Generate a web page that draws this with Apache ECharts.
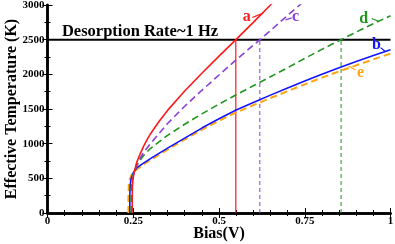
<!DOCTYPE html>
<html><head><meta charset="utf-8">
<script src="https://cdn.jsdelivr.net/npm/echarts@6/dist/echarts.min.js"></script>
<style>html,body{margin:0;padding:0;background:#fff}#c{width:395px;height:244px}</style>
</head><body><div id="c"></div>
<script>
// ---- data ----
const xTicks = [0, 0.25, 0.5, 0.75, 1];
const yTicks = [0, 500, 1000, 1500, 2000, 2500, 3000];
const biasA = [0.247,0.247,0.2475,0.249,0.252,0.256,0.26,0.27,0.28,0.29,0.30,0.325,0.35,0.40,0.45,0.50,0.55,0.60,0.65,0.66];
const tempA = [0,200,380,480,570,650,730,850,960,1055,1140,1320,1480,1760,2015,2263,2505,2750,3000,3050];
const biasB = [0.240,0.240,0.241,0.244,0.25,0.26,0.28,0.30,0.35,0.40,0.45,0.50,0.55,0.60,0.65,0.70,0.75,0.80,0.85,0.90,0.95,1.0];
const tempB = [0,250,400,500,580,650,720,785,935,1080,1225,1360,1485,1595,1700,1802,1903,2002,2095,2185,2270,2353];
const biasC = [0.246,0.246,0.247,0.25,0.255,0.26,0.27,0.28,0.30,0.35,0.40,0.45,0.50,0.55,0.60,0.65,0.70,0.74];
const tempC = [0,250,420,540,620,690,790,870,1000,1290,1540,1770,1990,2210,2420,2630,2850,3020];
const biasD = [0.244,0.244,0.245,0.248,0.253,0.26,0.27,0.28,0.30,0.35,0.40,0.45,0.50,0.55,0.60,0.65,0.70,0.75,0.80,0.85,0.90,0.95,1.0];
const tempD = [0,250,420,530,600,680,760,830,930,1120,1280,1430,1570,1705,1835,1965,2095,2230,2360,2485,2610,2730,2845];
const biasE = [0.236,0.236,0.237,0.24,0.246,0.255,0.28,0.30,0.35,0.40,0.45,0.50,0.55,0.60,0.65,0.70,0.75,0.80,0.85,0.90,0.95,1.0];
const tempE = [0,250,400,490,560,610,700,765,915,1060,1200,1330,1450,1555,1658,1758,1856,1952,2043,2130,2215,2300];
const rateTemp = 2500;          // desorption rate ~1 Hz level
const crossA = 0.549, crossC = 0.619, crossD = 0.856;
const titleText = 'Desorption Rate~1 Hz';
const curveLabels = ['a','b','c','d','e'];

const colA='#ff1a1a', colB='#1414ff', colC='#8a3fd4', colD='#1f951f', colE='#ffa510';
const F='"Liberation Serif","Times New Roman",serif';

const zip=(xs,ys)=>xs.map((x,i)=>[x,ys[i]]);
const chart = echarts.init(document.getElementById('c'));
const AL={show:true,lineStyle:{color:'#000',width:2.5}};
const AT={show:true,inside:true,length:5,lineStyle:{color:'#000',width:1}};
function lineS(data,color,width,type,z){
  return {type:'line',data,symbol:'none',lineStyle:{color,width,type},z:z||2,animation:false,clip:true};
}
const option = {
  animation:false,
  grid:{left:47.5,right:4.5,top:5,bottom:31,show:false,containLabel:false,outerBoundsMode:'none'},
  xAxis:[
    {type:'value',min:xTicks[0],max:xTicks[xTicks.length-1],interval:0.25,
      name:'Bias(V)',nameLocation:'middle',nameGap:13,nameMoveOverlap:false,
      nameTextStyle:{fontFamily:F,fontWeight:'bold',fontSize:16,color:'#000'},
      axisLabel:{fontFamily:F,fontWeight:'bold',fontSize:11,color:'#000',margin:3,formatter:v=>String(v)},
      axisLine:AL,axisTick:AT,splitLine:{show:false},
      minorTick:{show:true,splitNumber:5,length:3,lineStyle:{color:'#000',width:1}}},
    {type:'value',position:'top',min:0,max:1,interval:0.25,axisLabel:{show:false},
      axisLine:AL,axisTick:AT,splitLine:{show:false},
      minorTick:{show:true,splitNumber:5,length:3,lineStyle:{color:'#000',width:1}}}
  ],
  yAxis:[
    {type:'value',min:yTicks[0],max:yTicks[yTicks.length-1],interval:500,
      name:'Effective Temperature (K)',nameLocation:'middle',nameGap:28,nameMoveOverlap:false,
      nameTextStyle:{fontFamily:F,fontWeight:'bold',fontSize:16,color:'#000'},
      axisLabel:{fontFamily:F,fontWeight:'bold',fontSize:11,color:'#000',margin:3,formatter:v=>String(v)},
      axisLine:AL,axisTick:AT,splitLine:{show:false},
      minorTick:{show:true,splitNumber:2,length:3,lineStyle:{color:'#000',width:1}}},
    {type:'value',position:'right',min:0,max:3000,interval:500,axisLabel:{show:false},
      axisLine:AL,axisTick:AT,splitLine:{show:false},
      minorTick:{show:true,splitNumber:2,length:3,lineStyle:{color:'#000',width:1}}}
  ],
  series:[
    lineS([[0,rateTemp],[1,rateTemp]],'#000',2,'solid',1),
    lineS([[crossA,0],[crossA,rateTemp]],colA,1.2,'solid',1),
    lineS([[crossC,0],[crossC,rateTemp]],colC,1,[4,3],1),
    lineS([[crossD,0],[crossD,rateTemp]],colD,1,[4,3],1),
    lineS(zip(biasE,tempE),colE,2,[7,4],2),
    lineS(zip(biasB,tempB),colB,1.6,'solid',3),
    lineS(zip(biasD,tempD),colD,1.6,[7,4],3),
    lineS(zip(biasC,tempC),colC,1.6,[7,4],3),
    lineS(zip(biasA,tempA),colA,1.6,'solid',4)
  ]
};
chart.setOption(option);

// annotations positioned in data units
const P=(x,y)=>chart.convertToPixel({xAxisIndex:0,yAxisIndex:0},[x,y]);
const labelSpec=[
  {t:curveLabels[0],c:colA,at:[0.581,2830],l:[[0.597,2820],[0.627,2880]]},
  {t:curveLabels[1],c:colB,at:[0.959,2425],l:[[0.971,2385],[0.985,2330]]},
  {t:curveLabels[2],c:colC,at:[0.723,2830],l:[[0.694,2786],[0.712,2815]]},
  {t:curveLabels[3],c:colD,at:[0.922,2800],l:[[0.945,2805],[0.965,2765]]},
  {t:curveLabels[4],c:colE,at:[0.913,2020],l:[[0.878,2120],[0.898,2062]]}
];
const g=[];
labelSpec.forEach(s=>{
  const p=P(s.at[0],s.at[1]);
  g.push({type:'text',x:p[0],y:p[1],style:{text:s.t,fill:s.c,font:'bold 16px '+F,align:'center',verticalAlign:'middle'},z:10});
  const a=P(s.l[0][0],s.l[0][1]), b=P(s.l[1][0],s.l[1][1]);
  g.push({type:'line',shape:{x1:a[0],y1:a[1],x2:b[0],y2:b[1]},style:{stroke:s.c,lineWidth:1.2},z:10});
});
const tp=P(0.042,2620);
g.push({type:'text',x:tp[0],y:tp[1],style:{text:titleText,fill:'#000',font:'bold 16.5px '+F,align:'left',verticalAlign:'middle'},z:10});
chart.setOption({graphic:g});
</script></body></html>
